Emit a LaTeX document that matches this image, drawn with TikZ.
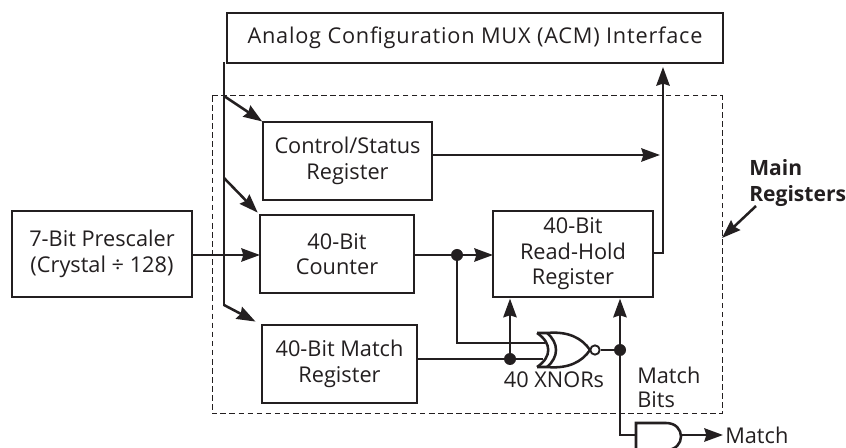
\documentclass[tikz,border=0pt]{standalone}
\usepackage{fontspec}
\setmainfont{Open Sans}
\usetikzlibrary{arrows.meta}
\definecolor{ink}{HTML}{231F20}
\newcommand{\txtfont}{\fontsize{16.3}{19.2}\selectfont}
\tikzset{
 px/.style={x=0.75pt,y=-0.75pt},
 blockbox/.style={draw=ink,line width=1.9pt,fill=white,inner sep=0pt,outer sep=0pt,align=center,text=ink,font=\txtfont,anchor=north west},
 wire/.style={draw=ink,line width=1.9pt},
 arr/.style={wire,-{Stealth[length=14pt,width=10pt,inset=1.5pt]}},
 dotn/.style={circle,fill=ink,inner sep=0pt,minimum size=9pt},
 lab/.style={text=ink,font=\txtfont,align=left,inner sep=0pt},
}
\begin{document}
\begin{tikzpicture}[px]
\useasboundingbox (0,0) rectangle (846,448);
\draw[ink,line width=0.75pt,dash pattern=on 4.2pt off 2.6pt] (212,96) rectangle (722,414);
\node[blockbox,minimum width=372pt,minimum height=37.5pt] (acm) at (227,13) {\addfontfeature{LetterSpace=3.6}Analog Configuration MUX (ACM) Interface};
\node[blockbox,minimum width=126.75pt,minimum height=58.5pt] (ctrl) at (263,122) {Control/Status\\Register};
\node[blockbox,minimum width=115.5pt,minimum height=58.5pt] (cnt) at (260,215) {40-Bit\\Counter};
\node[blockbox,minimum width=120pt,minimum height=64.5pt] (rh) at (493,211) {40-Bit\\Read-Hold\\Register};
\node[blockbox,minimum width=116.25pt,minimum height=58.5pt] (mat) at (262,325) {40-Bit Match\\Register};
\node[blockbox,minimum width=135pt,minimum height=64.5pt] (pre) at (12,211) {7-Bit Prescaler\\(Crystal ÷ 128)};
\coordinate (bustop) at (224,63);
\coordinate (busbot) at (224,305);
\coordinate (bctrl) at (224,96);
\coordinate (bcnt) at (224,178);
\draw[wire,line cap=rect] (bustop) -- (busbot);
\draw[arr,shorten >=0.7pt] (bctrl) -- (ctrl.north west);
\draw[arr,shorten >=2.5pt] (bcnt) -- (cnt.north west);
\draw[arr,shorten >=5.5pt] (busbot) -- (mat.north west);
\draw[arr] (pre.east |- 0,255) -- (cnt.west |- 0,255);
\draw[arr] (ctrl.east |- 0,155) -- (660,155);
\node[dotn] (d1) at (457,255) {};
\draw[arr] (cnt.east |- d1) -- (rh.west |- d1);
\node[dotn] (d2) at (510,359) {};
\node[dotn] (d3) at (620,350) {};
\coordinate (xa) at (545,343);
\coordinate (xb) at (543,359);
\draw[wire] (d1) -- (457,343) -- (xa);
\draw[wire] (mat.east |- d2) -- (xb);
\draw[arr,shorten >=1.2pt] (d2) -- (d2 |- rh.south);
\draw[arr,shorten >=1.2pt] (d3) -- (d3 |- rh.south);
\draw[arr] (rh.east |- 0,253) -- (663,253) -- (663,67);
% XNOR
\draw[ink,line width=1.9pt,line join=round] (537,333) -- (547,333) .. controls (568,331) and (582,338) .. (590,350) .. controls (582,362) and (568,369) .. (547,367) -- (537,367);
\draw[ink,line width=1.9pt] (537,333) .. controls (552,343) and (552,357) .. (537,367);
\draw[ink,line width=1.9pt] (547,333) .. controls (559,343) and (559,357) .. (547,367);
\node[circle,draw=ink,line width=1.4pt,fill=white,inner sep=0pt,minimum size=7pt] (inv) at (595,350) {};
\draw[wire] (inv) -- (d3);
\coordinate (andin) at (636,435);
\draw[wire] (d3) -- (620,435) -- (andin);
% AND
\draw[ink,line width=1.9pt,fill=white] (636,450) -- (636,423) -- (666,423) .. controls (686,423) and (686,450) .. (666,450) -- cycle;
\node[lab,anchor=base] (xl) at (554,388) {40 XNORs};
\node[lab,anchor=base west] (mb1) at (637,384) {Match};
\node[lab,anchor=base west] (mb2) at (637,408) {Bits};
\node[lab,anchor=west] (ml) at (725,435) {Match};
\draw[arr,shorten >=1.5pt] (682,435) -- (ml.west);
\node[lab,anchor=base west,font=\fontsize{15.8}{18.75}\selectfont\bfseries] (mr1) at (749,176) {Main};
\node[lab,anchor=base west,font=\fontsize{15.8}{18.75}\selectfont\bfseries] (mr2) at (749,202) {Registers};
\coordinate (mrt) at (756,206);
\coordinate (mrh) at (722,238);
\draw[arr] (mrt) -- (mrh);
\end{tikzpicture}
\end{document}
